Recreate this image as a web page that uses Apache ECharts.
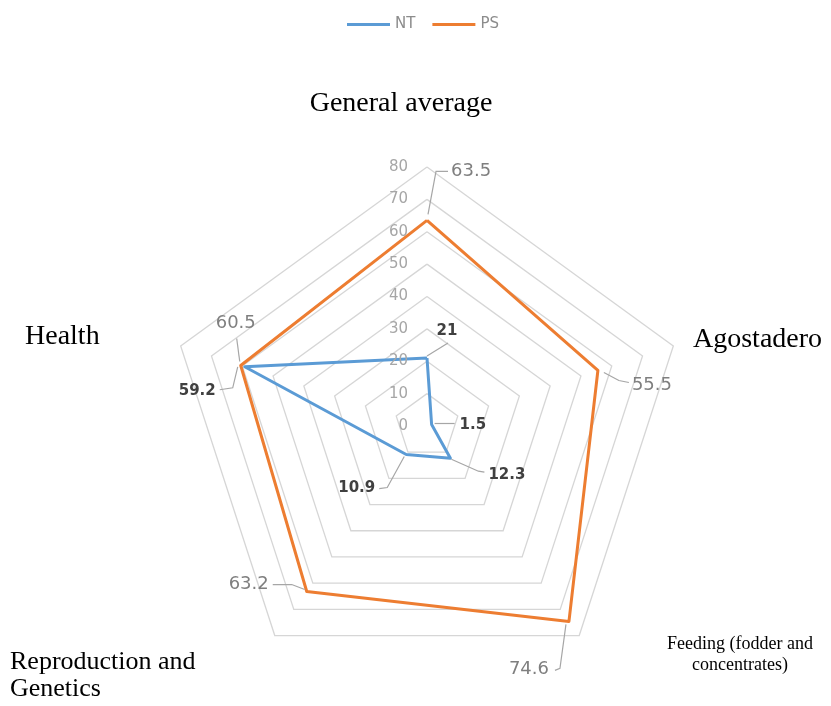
<!DOCTYPE html>
<html><head><meta charset="utf-8">
<script src="https://cdn.jsdelivr.net/npm/echarts@6/dist/echarts.min.js"></script>
<style>html,body{margin:0;padding:0;background:#fff}#c{width:831px;height:706px}</style>
</head><body><div id="c"></div>
<script>
// ---- data ----
const categories = ['General average', 'Health', 'Reproduction and Genetics', 'Feeding (fodder and concentrates)', 'Agostadero'];
const seriesNames = ['NT', 'PS'];
const ntValues = [21, 59.2, 10.9, 12.3, 1.5];
const psValues = [63.5, 60.5, 63.2, 74.6, 55.5];
const tickLabels = [0, 10, 20, 30, 40, 50, 60, 70, 80];
const axisMin = 0;
const axisMax = 80;

// ---- layout / style ----
const CENTER = [427, 426];
const RADIUS = 259;
const NT_COLOR = '#5b9bd5';
const PS_COLOR = '#ed7d31';
const NUM_FONT = 'DejaVu Sans, Liberation Sans, Arial, sans-serif';
const SERIF = 'Liberation Serif, Times New Roman, serif';

const chart = echarts.init(document.getElementById('c'), null, {renderer: 'canvas'});
chart.setOption({
  backgroundColor: '#fff',
  animation: false,
  legend: {
    data: seriesNames, top: 12, left: 342, icon: 'rect',
    itemWidth: 43, itemHeight: 3, itemGap: 17,
    textStyle: {color: '#8c8c8c', fontSize: 15, fontFamily: NUM_FONT}
  },
  radar: {
    center: CENTER, radius: RADIUS, startAngle: 90, shape: 'polygon', splitNumber: 8,
    indicator: categories.map(c => ({name: c, min: axisMin, max: axisMax})),
    axisName: {show: false},
    axisLine: {show: false}, axisTick: {show: false}, axisLabel: {show: false},
    splitLine: {lineStyle: {color: '#d6d6d6', width: 1.3}},
    splitArea: {show: false}
  },
  series: [{
    type: 'radar', symbol: 'none',
    data: [
      {name: seriesNames[0], value: ntValues, lineStyle: {color: NT_COLOR, width: 3}, itemStyle: {color: NT_COLOR}},
      {name: seriesNames[1], value: psValues, lineStyle: {color: PS_COLOR, width: 3}, itemStyle: {color: PS_COLOR}}
    ]
  }]
});

// library coordinate conversion
let cs = null;
try { cs = chart.getModel().getComponent('radar', 0).coordinateSystem; } catch (e) { cs = null; }
function toPx(v, i) {
  if (cs && cs.dataToPoint) return cs.dataToPoint(v, i);
  const a = (90 + i * 360 / categories.length) * Math.PI / 180;
  const r = (v - axisMin) / (axisMax - axisMin) * RADIUS;
  return [CENTER[0] + r * Math.cos(a), CENTER[1] - r * Math.sin(a)];
}

// label leader layouts (offsets relative to data point)
const psLayout = [
  {line: [[1, -6], [9, -49], [21, -49]], text: [24, -49], align: 'left'},
  {line: [[-1, -4], [-4, -27]], text: [-5, -42], align: 'center'},
  {line: [[-2, -2], [-15, -7], [-34, -7]], text: [-38, -7], align: 'right'},
  {line: [[-3, 3], [-9, 47], [-14, 49]], text: [-20, 48], align: 'right'},
  {line: [[6, 2], [21, 10], [31, 12]], text: [34, 15], align: 'left'}
];
const ntLayout = [
  {line: [[0, -2], [21, -15]], text: [20, -27], align: 'center'},
  {line: [[-7, 0], [-12, 21], [-25, 23]], text: [-29, 24], align: 'right'},
  {line: [[-2, 2], [-19, 33], [-27, 34]], text: [-31, 34], align: 'right'},
  {line: [[1, 1], [28, 13], [34, 14]], text: [38, 17], align: 'left'},
  {line: [[3, -1], [23, -1]], text: [28, 1], align: 'left'}
];

const graphics = [];
function addLabels(values, layout, color, weight, size) {
  values.forEach((v, i) => {
    const p = toPx(v, i);
    const L = layout[i];
    graphics.push({
      type: 'polyline', silent: true, z: 50,
      shape: {points: L.line.map(o => [p[0] + o[0], p[1] + o[1]])},
      style: {stroke: '#a6a6a6', lineWidth: 1.2, fill: null}
    });
    graphics.push({
      type: 'text', silent: true, z: 51,
      x: p[0] + L.text[0], y: p[1] + L.text[1],
      style: {text: String(v), fill: color, font: weight + ' ' + size + 'px ' + NUM_FONT,
              textAlign: L.align, textVerticalAlign: 'middle'}
    });
  });
}
addLabels(psValues, psLayout, '#7f7f7f', 'normal', 18);
addLabels(ntValues, ntLayout, '#404040', 'bold', 15);

// radial tick labels along the first axis
tickLabels.forEach(t => {
  const p = toPx(t, 0);
  graphics.push({
    type: 'text', silent: true, z: 40,
    x: p[0] - 19, y: p[1],
    style: {text: String(t), fill: '#a6a6a6', font: '15px ' + NUM_FONT, textAlign: 'right', textVerticalAlign: 'middle'}
  });
});

// category names
const nameSpecs = [
  {x: 401, y: 104, align: 'center', size: 28},
  {x: 25, y: 337, align: 'left', size: 28},
  {x: 10, y: 676, align: 'left', size: 26, lh: 27},
  {x: 740, y: 655, align: 'center', size: 18, lh: 21},
  {x: 693, y: 340, align: 'left', size: 28}
];
const nameLines = ['General average', 'Health', 'Reproduction and\nGenetics', 'Feeding (fodder and\nconcentrates)', 'Agostadero'];
categories.forEach((c, i) => {
  const s = nameSpecs[i];
  graphics.push({
    type: 'text', silent: true, z: 60, x: s.x, y: s.y,
    style: {text: nameLines[i], fill: '#000', font: s.size + 'px ' + SERIF,
            textAlign: s.align, textVerticalAlign: 'middle', lineHeight: s.lh || s.size}
  });
});

chart.setOption({graphic: graphics});
</script>
</body></html>
